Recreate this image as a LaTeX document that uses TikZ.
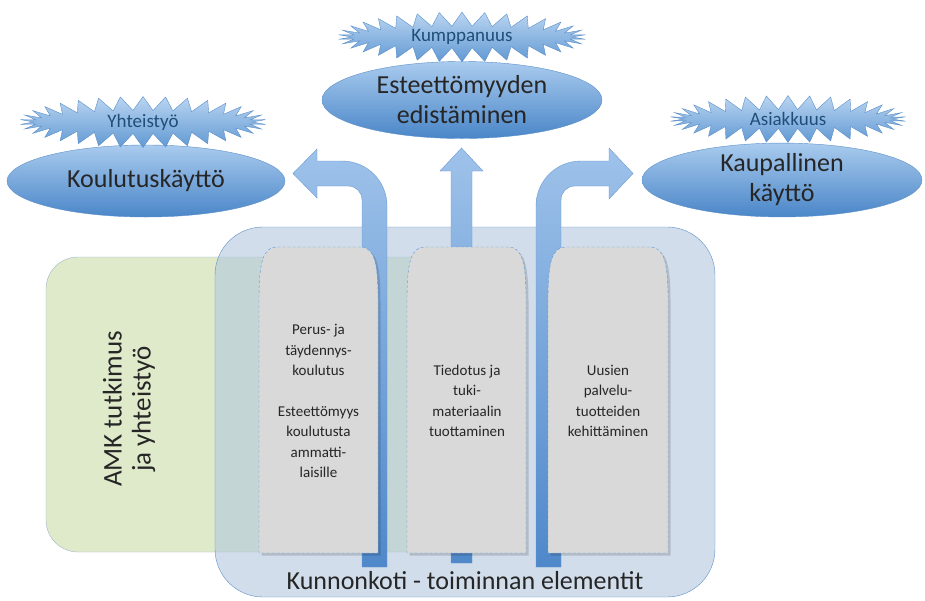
\documentclass[tikz,border=0pt]{standalone}
\usepackage{fontspec}
\setmainfont{Carlito}
\usepackage{xcolor}
\definecolor{bubbleTop} {HTML}{A9CBEE}
\definecolor{bubbleBot} {HTML}{4A86C8}
\definecolor{bubbleLine}{HTML}{5B8FC9}
\definecolor{burstTop}  {HTML}{BAD5F1}
\definecolor{burstBot}  {HTML}{6199D3}
\definecolor{burstText} {HTML}{1F4E79}
\definecolor{frameBack} {HTML}{B3C7DE}
\definecolor{frameLine} {HTML}{5B8FC9}
\definecolor{greenBack} {HTML}{DFEACB}
\definecolor{greenLine} {HTML}{A3B6C8}
\definecolor{colBack}   {HTML}{D9D9D9}
\definecolor{colLine}   {HTML}{5B9BD5}
\definecolor{arrowTop}  {HTML}{9EC2EA}
\definecolor{arrowBot}  {HTML}{4F88CA}
\definecolor{arrowLine} {HTML}{6A9AD4}
\definecolor{inkText}   {HTML}{262626}
\usetikzlibrary{shapes.geometric, shapes.symbols}

\begin{document}
\begin{tikzpicture}[
    x=1pt, y=-1pt,
    bubble/.style={ellipse, draw=bubbleLine, thin, top color=bubbleTop,
                   bottom color=bubbleBot, inner sep=0pt, align=center,
                   font=\fontsize{26}{30}\selectfont, text=inkText},
    burst/.style={starburst, random starburst=0, starburst points=34,
                  starburst point height=14pt, draw=bubbleLine, thin,
                  top color=burstTop, bottom color=burstBot, inner sep=0pt,
                  font=\fontsize{19}{22}\selectfont, text=burstText},
    greenbox/.style={draw=greenLine, thin, fill=greenBack, rounded corners=32pt},
    framebox/.style={draw=frameLine, thin, fill=frameBack, fill opacity=0.6,
                     rounded corners=48pt},
    colbox/.style={draw=colLine, dashed, dash pattern=on 3pt off 2pt, thin,
                   fill=colBack,
                   preaction={fill=black, opacity=0.15,
                              transform canvas={xshift=2.5pt, yshift=-2.5pt}}},
    coltext/.style={align=center, text=inkText,
                    font=\fontsize{15}{20.5}\selectfont},
    blockarrow/.style={draw=arrowLine, thin, top color=arrowTop,
                       bottom color=arrowBot},
]
\useasboundingbox (0,0) rectangle (925,600);

% --- back panels ---
\path[greenbox] (46,257) rectangle (480,552);
\path[framebox] (215,227) rectangle (715,597);

% --- block arrows ---
\path[blockarrow] (387,567) -- (387,206) .. controls (387,181) and (367,161) .. (342,161)
    -- (317,161) -- (317,149) -- (293,173.5) -- (317,198) -- (317,186) -- (348,186)
    .. controls (356,186) and (362,192) .. (362,200) -- (362,567) -- cycle;
\path[blockarrow] (451,563) -- (451,171) -- (440,171) -- (461.5,148) -- (483,171)
    -- (472,171) -- (472,563) -- cycle;
\path[blockarrow] (536,567) -- (536,206) .. controls (536,181) and (556,161) .. (581,161)
    -- (609,161) -- (609,148) -- (633,173.5) -- (609,199) -- (609,186) -- (575,186)
    .. controls (567,186) and (561,192) .. (561,200) -- (561,567) -- cycle;

% --- columns ---
\foreach \xa/\xb in {259/378, 407/526, 548/668} {
  \path[colbox] (\xa,553) -- (\xa,300) .. controls (\xa,262) and (\xa+4,247) .. (\xa+18,247)
      -- (\xb-18,247) .. controls (\xb-4,247) and (\xb,262) .. (\xb,300) -- (\xb,553) -- cycle;
}
\node[coltext] (perus) at (318.5,401)
    {Perus- ja\\täydennys-\\koulutus\\[20pt]Esteettömyys\\koulutusta\\ammatti-\\laisille};
\node[coltext] (tiedotus) at (467,401) {Tiedotus ja\\tuki-\\materiaalin\\tuottaminen};
\node[coltext] (uusien) at (608,401) {Uusien\\palvelu-\\tuotteiden\\kehittäminen};

\node[rotate=90, align=center, text=inkText, font=\fontsize{27}{29}\selectfont]
    (amk) at (129,409) {AMK tutkimus\\ja yhteistyö};
\node[text=inkText, font=\fontsize{26}{30}\selectfont] (elementit) at (465,581)
    {Kunnonkoti - toiminnan elementit};

% --- goals ---
\node[bubble, minimum width=278pt, minimum height=72pt] (koulutus) at (146,181) {Koulutuskäyttö};
\node[bubble, minimum width=280pt, minimum height=77pt] (edistaminen) at (462,100)
    {Esteettömyyden\\edistäminen};
\node[bubble, minimum width=280pt, minimum height=70pt] (kaupallinen) at (782,180)
    {Kaupallinen\\käyttö};

\node[burst, minimum width=246pt, minimum height=34pt] (yhteistyo) at (143,122) {Yhteistyö};
\node[burst, minimum width=248pt, minimum height=38pt] (kumppanuus) at (462,37) {Kumppanuus};
\node[burst, minimum width=236pt, minimum height=30pt] (asiakkuus) at (788,119) {Asiakkuus};
\end{tikzpicture}
\end{document}
